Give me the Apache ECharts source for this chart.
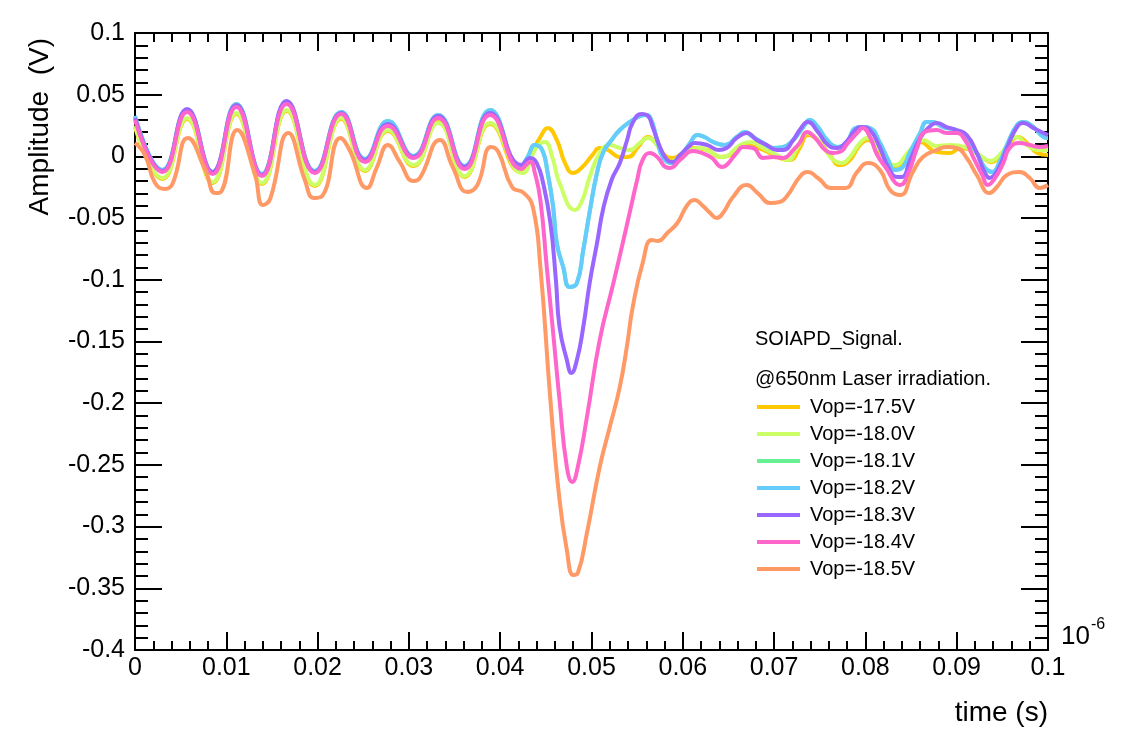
<!DOCTYPE html>
<html><head><meta charset="utf-8">
<script src="https://cdn.jsdelivr.net/npm/echarts@6/dist/echarts.min.js"></script>
<style>html,body{margin:0;padding:0;background:#fff}#c{width:1121px;height:740px}</style>
</head><body><div id="c"></div>
<script>
const seriesNames = ['Vop=-17.5V','Vop=-18.0V','Vop=-18.1V','Vop=-18.2V','Vop=-18.3V','Vop=-18.4V','Vop=-18.5V'];
const seriesColors = ['#ffc800','#ccff66','#66f093','#66ccff','#9966ff','#ff66cc','#ff9966'];
const headerTexts = ['SOIAPD_Signal.', '@650nm Laser irradiation.'];
const xTitle = 'time (s)';
const yTitle = 'Amplitude  (V)';

// [time (x1e-6 s), amplitude (V)]
const v175 = [[0,0.0238],[0.0030,-0.0183],[0.0057,0.0303],[0.0085,-0.0216],[0.0111,0.0344],[0.0139,-0.0224],[0.0166,0.0368],[0.0197,-0.0240],[0.0226,0.0303],[0.0252,-0.0118],[0.0277,0.0206],[0.0305,-0.0078],[0.0332,0.0279],[0.0361,-0.0167],[0.0389,0.0263],[0.0422,-0.0126],[0.0433,0.0011],[0.0444,0.0157],[0.0452,0.0230],[0.0462,0.0133],[0.0471,-0.0054],[0.0480,-0.0135],[0.0490,-0.0086],[0.0501,0.0011],[0.0509,0.0068],[0.0518,0.0052],[0.0531,-0.0005],[0.0540,-0.0005],[0.0551,0.0076],[0.0562,0.0157],[0.0572,0.0092],[0.0583,-0.0005],[0.0589,-0.0013],[0.0600,0.0028],[0.0611,0.0068],[0.0627,0.0052],[0.0641,-0.0005],[0.0652,0.0011],[0.0668,0.0092],[0.0688,0.0052],[0.0706,-0.0013],[0.0717,-0.0029],[0.0728,0.0068],[0.0737,0.0173],[0.0748,0.0133],[0.0761,0.0011],[0.0772,-0.0070],[0.0783,-0.0029],[0.0794,0.0092],[0.0803,0.0133],[0.0814,0.0052],[0.0832,-0.0078],[0.0849,0.0036],[0.0860,0.0117],[0.0878,0.0036],[0.0893,0.0028],[0.0904,0.0068],[0.0915,0.0052],[0.0929,-0.0013],[0.0937,-0.0045],[0.0947,-0.0005],[0.0958,0.0109],[0.0967,0.0157],[0.0977,0.0109],[0.0988,0.0028],[0.1,0.0011]];
const v180 = [[0,0.0246],[0.0030,-0.0175],[0.0057,0.0311],[0.0085,-0.0207],[0.0111,0.0352],[0.0139,-0.0216],[0.0166,0.0376],[0.0197,-0.0232],[0.0226,0.0311],[0.0252,-0.0110],[0.0277,0.0214],[0.0305,-0.0070],[0.0332,0.0271],[0.0361,-0.0159],[0.0389,0.0271],[0.0424,-0.0135],[0.0440,0.0076],[0.0449,0.0117],[0.0457,-0.0005],[0.0465,-0.0216],[0.0482,-0.0434],[0.0490,-0.0353],[0.0498,-0.0167],[0.0509,0.0028],[0.0520,0.0092],[0.0531,0.0068],[0.0542,0.0052],[0.0553,0.0109],[0.0562,0.0149],[0.0570,0.0109],[0.0577,0.0028],[0.0586,-0.0045],[0.0597,-0.0005],[0.0608,0.0052],[0.0619,0.0068],[0.0630,0.0036],[0.0643,-0.0005],[0.0663,0.0092],[0.0674,0.0117],[0.0688,0.0068],[0.0703,0.0011],[0.0715,-0.0029],[0.0726,0.0076],[0.0736,0.0190],[0.0745,0.0157],[0.0756,0.0052],[0.0765,-0.0029],[0.0774,-0.0054],[0.0783,-0.0005],[0.0794,0.0109],[0.0802,0.0149],[0.0813,0.0076],[0.0832,-0.0070],[0.0849,0.0052],[0.0863,0.0133],[0.0878,0.0084],[0.0893,0.0092],[0.0909,0.0076],[0.0922,0.0028],[0.0937,-0.0037],[0.0947,0.0011],[0.0966,0.0157],[0.0977,0.0092],[0.0988,0.0052],[0.1,0.0052]];
const v181 = [[0,0.0327],[0.0030,-0.0110],[0.0057,0.0376],[0.0085,-0.0126],[0.0111,0.0425],[0.0139,-0.0143],[0.0166,0.0433],[0.0197,-0.0118],[0.0226,0.0360],[0.0252,-0.0021],[0.0277,0.0287],[0.0305,0.0003],[0.0332,0.0336],[0.0361,-0.0078],[0.0389,0.0376],[0.0422,-0.0086],[0.0430,-0.0005],[0.0438,0.0092],[0.0446,0.0052],[0.0452,-0.0135],[0.0458,-0.0410],[0.0462,-0.0705],[0.0469,-0.0896],[0.0476,-0.1058],[0.0484,-0.1026],[0.0491,-0.0758],[0.0498,-0.0450],[0.0506,-0.0135],[0.0513,0.0036],[0.0522,0.0133],[0.0531,0.0214],[0.0542,0.0279],[0.0551,0.0319],[0.0559,0.0336],[0.0564,0.0319],[0.0572,0.0133],[0.0578,-0.0005],[0.0588,-0.0054],[0.0597,-0.0005],[0.0608,0.0109],[0.0616,0.0173],[0.0624,0.0157],[0.0633,0.0117],[0.0646,0.0092],[0.0659,0.0157],[0.0668,0.0198],[0.0677,0.0157],[0.0688,0.0109],[0.0699,0.0068],[0.0710,0.0076],[0.0721,0.0133],[0.0732,0.0238],[0.0739,0.0295],[0.0748,0.0238],[0.0758,0.0133],[0.0769,0.0076],[0.0780,0.0117],[0.0789,0.0230],[0.0797,0.0238],[0.0805,0.0230],[0.0816,0.0109],[0.0825,-0.0029],[0.0832,-0.0110],[0.0840,-0.0094],[0.0849,0.0036],[0.0860,0.0190],[0.0867,0.0279],[0.0874,0.0279],[0.0885,0.0238],[0.0898,0.0214],[0.0909,0.0157],[0.0922,0.0028],[0.0931,-0.0094],[0.0939,-0.0126],[0.0947,-0.0045],[0.0955,0.0092],[0.0966,0.0254],[0.0973,0.0279],[0.0984,0.0238],[0.0995,0.0157],[0.1,0.0149]];
const v182 = [[0,0.0327],[0.0030,-0.0110],[0.0057,0.0376],[0.0085,-0.0126],[0.0111,0.0425],[0.0139,-0.0143],[0.0166,0.0433],[0.0197,-0.0118],[0.0226,0.0360],[0.0252,-0.0021],[0.0277,0.0287],[0.0305,0.0003],[0.0332,0.0336],[0.0361,-0.0078],[0.0389,0.0376],[0.0422,-0.0086],[0.0430,-0.0005],[0.0438,0.0092],[0.0446,0.0052],[0.0452,-0.0135],[0.0458,-0.0410],[0.0462,-0.0705],[0.0469,-0.0896],[0.0476,-0.1058],[0.0484,-0.1026],[0.0491,-0.0758],[0.0498,-0.0450],[0.0506,-0.0135],[0.0513,0.0036],[0.0522,0.0133],[0.0531,0.0214],[0.0542,0.0279],[0.0551,0.0319],[0.0559,0.0336],[0.0564,0.0319],[0.0572,0.0133],[0.0578,-0.0005],[0.0588,-0.0054],[0.0597,-0.0005],[0.0608,0.0109],[0.0616,0.0173],[0.0624,0.0157],[0.0633,0.0117],[0.0646,0.0092],[0.0659,0.0157],[0.0668,0.0198],[0.0677,0.0157],[0.0688,0.0109],[0.0699,0.0068],[0.0710,0.0076],[0.0721,0.0133],[0.0732,0.0238],[0.0739,0.0295],[0.0748,0.0238],[0.0758,0.0133],[0.0769,0.0076],[0.0780,0.0117],[0.0789,0.0230],[0.0797,0.0238],[0.0805,0.0230],[0.0816,0.0109],[0.0825,-0.0029],[0.0832,-0.0110],[0.0840,-0.0094],[0.0849,0.0036],[0.0860,0.0190],[0.0867,0.0279],[0.0874,0.0279],[0.0885,0.0238],[0.0898,0.0214],[0.0909,0.0157],[0.0922,0.0028],[0.0931,-0.0094],[0.0939,-0.0126],[0.0947,-0.0045],[0.0955,0.0092],[0.0966,0.0254],[0.0973,0.0279],[0.0984,0.0238],[0.0995,0.0157],[0.1,0.0149]];
const v183 = [[0,0.0311],[0.0030,-0.0118],[0.0057,0.0384],[0.0085,-0.0126],[0.0111,0.0417],[0.0139,-0.0151],[0.0166,0.0449],[0.0197,-0.0126],[0.0226,0.0352],[0.0252,-0.0029],[0.0277,0.0263],[0.0305,-0.0005],[0.0332,0.0327],[0.0361,-0.0086],[0.0389,0.0352],[0.0423,-0.0070],[0.0433,-0.0013],[0.0440,-0.0054],[0.0447,-0.0216],[0.0455,-0.0540],[0.0461,-0.1002],[0.0465,-0.1382],[0.0473,-0.1650],[0.0478,-0.1755],[0.0484,-0.1650],[0.0491,-0.1382],[0.0498,-0.1026],[0.0506,-0.0705],[0.0513,-0.0418],[0.0522,-0.0191],[0.0531,-0.0054],[0.0539,0.0133],[0.0545,0.0271],[0.0555,0.0344],[0.0562,0.0327],[0.0567,0.0238],[0.0575,0.0076],[0.0583,-0.0029],[0.0589,-0.0045],[0.0597,0.0011],[0.0606,0.0076],[0.0613,0.0109],[0.0627,0.0092],[0.0639,0.0052],[0.0648,0.0068],[0.0659,0.0149],[0.0670,0.0190],[0.0681,0.0133],[0.0692,0.0092],[0.0703,0.0052],[0.0710,0.0052],[0.0721,0.0133],[0.0728,0.0214],[0.0737,0.0279],[0.0748,0.0198],[0.0759,0.0092],[0.0769,0.0068],[0.0778,0.0109],[0.0789,0.0214],[0.0796,0.0238],[0.0805,0.0214],[0.0816,0.0068],[0.0825,-0.0086],[0.0835,-0.0167],[0.0840,-0.0167],[0.0849,-0.0029],[0.0860,0.0149],[0.0869,0.0230],[0.0878,0.0271],[0.0889,0.0238],[0.0900,0.0214],[0.0911,0.0173],[0.0922,0.0028],[0.0931,-0.0135],[0.0936,-0.0175],[0.0945,-0.0110],[0.0955,0.0068],[0.0966,0.0238],[0.0973,0.0271],[0.0984,0.0230],[0.0995,0.0190],[0.1,0.0173]];
const v184 = [[0,0.0295],[0.0030,-0.0126],[0.0057,0.0360],[0.0085,-0.0143],[0.0111,0.0400],[0.0139,-0.0159],[0.0166,0.0425],[0.0197,-0.0135],[0.0226,0.0344],[0.0252,-0.0045],[0.0277,0.0246],[0.0305,-0.0013],[0.0332,0.0311],[0.0361,-0.0102],[0.0389,0.0336],[0.0423,-0.0102],[0.0433,-0.0045],[0.0438,-0.0135],[0.0444,-0.0353],[0.0451,-0.0896],[0.0458,-0.1430],[0.0465,-0.1974],[0.0473,-0.2517],[0.0479,-0.2638],[0.0485,-0.2517],[0.0495,-0.2112],[0.0509,-0.1487],[0.0524,-0.1026],[0.0535,-0.0677],[0.0542,-0.0450],[0.0550,-0.0191],[0.0556,-0.0029],[0.0564,0.0028],[0.0573,-0.0013],[0.0581,-0.0086],[0.0586,-0.0094],[0.0597,-0.0029],[0.0611,0.0044],[0.0624,0.0019],[0.0632,-0.0013],[0.0643,-0.0086],[0.0648,-0.0070],[0.0659,0.0028],[0.0666,0.0076],[0.0677,0.0068],[0.0688,-0.0013],[0.0699,-0.0005],[0.0710,-0.0013],[0.0721,0.0052],[0.0728,0.0109],[0.0736,0.0198],[0.0745,0.0149],[0.0756,0.0052],[0.0765,0.0028],[0.0772,0.0036],[0.0781,0.0109],[0.0792,0.0198],[0.0797,0.0230],[0.0805,0.0157],[0.0813,0.0011],[0.0824,-0.0110],[0.0832,-0.0207],[0.0838,-0.0232],[0.0847,-0.0135],[0.0857,0.0076],[0.0865,0.0198],[0.0878,0.0214],[0.0889,0.0190],[0.0900,0.0190],[0.0909,0.0133],[0.0918,-0.0005],[0.0928,-0.0151],[0.0934,-0.0232],[0.0942,-0.0175],[0.0951,-0.0054],[0.0958,0.0068],[0.0969,0.0109],[0.0980,0.0092],[0.0991,0.0076],[0.1,0.0084]];
const v185 = [[0,0.0109],[0.0011,0.0011],[0.0022,-0.0216],[0.0033,-0.0264],[0.0041,-0.0224],[0.0058,0.0149],[0.0077,-0.0110],[0.0088,-0.0297],[0.0094,-0.0288],[0.0112,0.0214],[0.0131,-0.0135],[0.0140,-0.0394],[0.0148,-0.0345],[0.0168,0.0190],[0.0186,-0.0191],[0.0196,-0.0337],[0.0205,-0.0321],[0.0225,0.0149],[0.0235,0.0052],[0.0254,-0.0256],[0.0265,-0.0086],[0.0277,0.0092],[0.0290,-0.0045],[0.0305,-0.0199],[0.0312,-0.0175],[0.0334,0.0133],[0.0348,-0.0086],[0.0364,-0.0288],[0.0375,-0.0232],[0.0390,0.0076],[0.0398,0.0036],[0.0413,-0.0248],[0.0426,-0.0297],[0.0436,-0.0418],[0.0444,-0.0896],[0.0455,-0.1974],[0.0465,-0.2784],[0.0473,-0.3190],[0.0480,-0.3392],[0.0485,-0.3376],[0.0495,-0.3051],[0.0509,-0.2517],[0.0520,-0.2193],[0.0531,-0.1868],[0.0539,-0.1528],[0.0545,-0.1228],[0.0556,-0.0864],[0.0566,-0.0677],[0.0573,-0.0685],[0.0583,-0.0621],[0.0594,-0.0540],[0.0605,-0.0394],[0.0613,-0.0353],[0.0621,-0.0394],[0.0630,-0.0459],[0.0637,-0.0499],[0.0644,-0.0459],[0.0655,-0.0329],[0.0670,-0.0232],[0.0682,-0.0297],[0.0696,-0.0378],[0.0706,-0.0370],[0.0715,-0.0313],[0.0728,-0.0167],[0.0737,-0.0126],[0.0748,-0.0175],[0.0763,-0.0256],[0.0778,-0.0256],[0.0791,-0.0126],[0.0803,-0.0054],[0.0816,-0.0110],[0.0827,-0.0272],[0.0838,-0.0313],[0.0852,-0.0126],[0.0863,-0.0005],[0.0878,0.0052],[0.0889,0.0076],[0.0900,0.0068],[0.0911,-0.0013],[0.0922,-0.0151],[0.0936,-0.0297],[0.0944,-0.0248],[0.0955,-0.0151],[0.0969,-0.0126],[0.0980,-0.0175],[0.0991,-0.0256],[0.1,-0.0232]];
const seriesData = [v175, v180, v181, v182, v183, v184, v185];

const FONT = 'Liberation Sans, Arial, Helvetica, sans-serif';
const chart = echarts.init(document.getElementById('c'), null, {renderer: 'canvas'});

const axisLine = {show: true, onZero: false, lineStyle: {color: '#000', width: 2}};
function xAx(pos, labels) {
  return {
    type: 'value', position: pos, min: 0, max: 0.1, interval: 0.01,
    axisLine: axisLine,
    axisTick: {show: true, inside: true, length: 18, lineStyle: {color: '#000', width: 2}},
    minorTick: {show: true, splitNumber: 5, length: 9, lineStyle: {color: '#000', width: 2}},
    splitLine: {show: false}, minorSplitLine: {show: false},
    axisLabel: {show: labels, margin: 6, fontSize: 25, fontFamily: FONT, color: '#000',
      formatter: v => String(Math.round(v * 1000) / 1000)}
  };
}
function yAx(pos, labels) {
  return {
    type: 'value', position: pos, min: -0.4, max: 0.1, interval: 0.05,
    axisLine: axisLine,
    axisTick: {show: true, inside: true, length: 27, lineStyle: {color: '#000', width: 2}},
    minorTick: {show: true, splitNumber: 5, length: 13, lineStyle: {color: '#000', width: 2}},
    splitLine: {show: false}, minorSplitLine: {show: false},
    axisLabel: {show: labels, margin: 10, fontSize: 25, fontFamily: FONT, color: '#000',
      formatter: v => String(Math.round(v * 100) / 100)}
  };
}

chart.setOption({
  animation: false,
  backgroundColor: '#fff',
  grid: {left: 135, top: 33, width: 913, height: 617, containLabel: false},
  xAxis: [xAx('bottom', true), xAx('top', false)],
  yAxis: [yAx('left', true), yAx('right', false)],
  legend: {
    orient: 'vertical', left: 757, top: 397, padding: 0, itemGap: 7,
    itemWidth: 43, itemHeight: 4, icon: 'rect',
    textStyle: {fontSize: 20, fontFamily: FONT, color: '#000', padding: [0, 0, 0, 5]},
    data: seriesNames
  },
  series: seriesNames.map((n, i) => ({
    name: n, type: 'line', xAxisIndex: 0, yAxisIndex: 0,
    data: seriesData[i], showSymbol: false, symbol: 'none',
    smooth: 0.5,
    lineStyle: {color: seriesColors[i], width: 4},
    itemStyle: {color: seriesColors[i]},
    emphasis: {disabled: true}
  })),
  graphic: [
    {type: 'text', left: 755, top: 329, style: {text: headerTexts[0], font: '20px ' + FONT, fill: '#000'}},
    {type: 'text', left: 755, top: 369, style: {text: headerTexts[1], font: '20px ' + FONT, fill: '#000'}},
    {type: 'text', x: 1048, y: 713, style: {text: xTitle, font: '28px ' + FONT, fill: '#000', align: 'right', verticalAlign: 'middle'}},
    {type: 'text', x: 40, y: 38, rotation: Math.PI / 2, style: {text: yTitle, font: '28px ' + FONT, fill: '#000', align: 'right', verticalAlign: 'middle'}},
    {type: 'text', x: 1061, y: 637, style: {text: '10', font: '26px ' + FONT, fill: '#000', align: 'left', verticalAlign: 'middle'}},
    {type: 'text', x: 1091, y: 625, style: {text: '-6', font: '16px ' + FONT, fill: '#000', align: 'left', verticalAlign: 'middle'}}
  ]
});
</script></body></html>
